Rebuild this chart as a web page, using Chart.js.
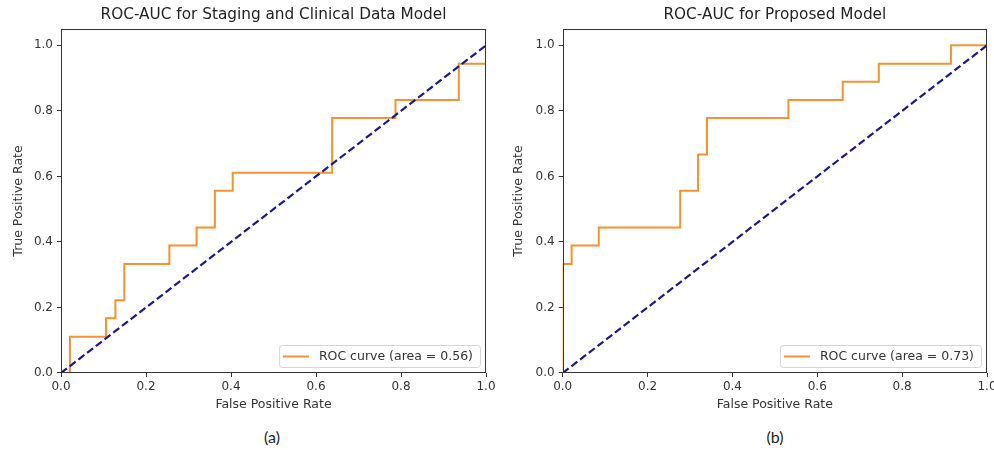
<!DOCTYPE html>
<html><head><meta charset="utf-8">
<script src="https://cdn.jsdelivr.net/npm/chart.js@4.4.1/dist/chart.umd.min.js"></script>
<style>
html,body{margin:0;padding:0;background:#fff;width:994px;height:450px;overflow:hidden;position:relative}
canvas{position:absolute;top:0}
#c1{left:0}
#c2{left:500px}
.cap{position:absolute;top:428px;line-height:18px;font-family:Lato,'Open Sans',sans-serif;font-size:16px;color:#222;transform:translateX(-50%)}
</style></head><body>
<canvas id="c1" width="547" height="420"></canvas>
<canvas id="c2" width="550" height="420"></canvas>
<div class="cap" style="left:272px">(a)</div>
<div class="cap" style="left:775px">(b)</div>
<script>
// ---- data ----
const titleA = "ROC-AUC for Staging and Clinical Data Model";
const titleB = "ROC-AUC for Proposed Model";
const legendA = "ROC curve (area = 0.56)";
const legendB = "ROC curve (area = 0.73)";
const xAxisLabel = "False Positive Rate";
const yAxisLabel = "True Positive Rate";

const leftFpr = [0, 0.021, 0.021, 0.106, 0.106, 0.128, 0.128, 0.149, 0.149, 0.255, 0.255, 0.319, 0.319, 0.362, 0.362, 0.404, 0.404, 0.638, 0.638, 0.787, 0.787, 0.936, 0.936, 1.0, 1.0];
const leftTpr = [0, 0, 0.111, 0.111, 0.167, 0.167, 0.222, 0.222, 0.333, 0.333, 0.389, 0.389, 0.444, 0.444, 0.556, 0.556, 0.611, 0.611, 0.778, 0.778, 0.833, 0.833, 0.944, 0.944, 1.0];

const rightFpr = [0, 0, 0.021, 0.021, 0.085, 0.085, 0.277, 0.277, 0.319, 0.319, 0.340, 0.340, 0.532, 0.532, 0.660, 0.660, 0.745, 0.745, 0.915, 0.915, 1.0];
const rightTpr = [0, 0.333, 0.333, 0.389, 0.389, 0.444, 0.444, 0.556, 0.556, 0.667, 0.667, 0.778, 0.778, 0.833, 0.833, 0.889, 0.889, 0.944, 0.944, 1.0, 1.0];

const chanceX = [0, 1];
const chanceY = [0, 1];

const xRange = [0, 1.0];
const yRange = [0, 1.05];
const tickStep = 0.2;

// ---- styling ----
const ORANGE = '#f39232';
const NAVY = '#1a1a88';
const TEXT = '#333333';
const FONT = '"DejaVu Sans", sans-serif';

const framePlugin = {
  id: 'frame',
  afterDraw(chart, args, opts) {
    const {ctx, chartArea: a} = chart;
    ctx.save();
    ctx.strokeStyle = '#333';
    ctx.lineWidth = 1;
    const l = Math.round(a.left) + 0.5, t = Math.round(a.top) + 0.5;
    const r = Math.round(a.right) - 0.5, b = Math.round(a.bottom) - 0.5;
    ctx.strokeRect(l, t, r - l, b - t);
    // inner legend (bottom right)
    ctx.font = '12.5px ' + FONT;
    const text = opts.text;
    const tw = ctx.measureText(text).width;
    const h = 22, w = 4 + 26 + 10 + tw + 7;
    const x = a.right - 6 - w, y = a.bottom - 6 - h;
    ctx.beginPath();
    if (ctx.roundRect) ctx.roundRect(x + 0.5, y + 0.5, w, h, 3); else ctx.rect(x + 0.5, y + 0.5, w, h);
    ctx.fillStyle = 'rgba(255,255,255,0.85)';
    ctx.fill();
    ctx.strokeStyle = '#d4d4d4';
    ctx.stroke();
    ctx.beginPath();
    ctx.strokeStyle = ORANGE;
    ctx.lineWidth = 2;
    ctx.moveTo(x + 4, y + h / 2 + 0.5);
    ctx.lineTo(x + 30, y + h / 2 + 0.5);
    ctx.stroke();
    ctx.fillStyle = TEXT;
    ctx.textBaseline = 'middle';
    ctx.textAlign = 'left';
    ctx.fillText(text, x + 40, y + h / 2 + 1);
    ctx.restore();
  }
};

function toPoints(xs, ys) { return xs.map((v, i) => ({x: v, y: ys[i]})); }

function makeChart(id, title, fpr, tpr, legendText, yWidth, padRight) {
  return new Chart(document.getElementById(id), {
    type: 'scatter',
    data: {
      datasets: [
        { data: toPoints(chanceX, chanceY), showLine: true, borderColor: NAVY, borderWidth: 2.2,
          borderDash: [7.5, 3.5], pointRadius: 0, order: 0, clip: 0 },
        { data: toPoints(fpr, tpr), showLine: true, borderColor: ORANGE, borderWidth: 2,
          pointRadius: 0, order: 1, clip: 0, tension: 0 }
      ]
    },
    options: {
      responsive: false, animation: false, devicePixelRatio: 1,
      layout: { padding: { left: 0, right: padRight, top: 0, bottom: 0 } },
      plugins: {
        legend: { display: false }, tooltip: { enabled: false },
        title: { display: true, fullSize: false, text: title, color: '#222', font: { family: FONT, size: 15.3, weight: 'normal', lineHeight: 1.2 },
                 padding: { top: 6, bottom: 4.6 } },
        frame: { text: legendText }
      },
      scales: {
        x: {
          type: 'linear', min: xRange[0], max: xRange[1],
          afterFit(s) { s.height = 47; },
          border: { display: false },
          grid: { drawOnChartArea: false, drawTicks: true, tickLength: 4, tickColor: '#333' },
          ticks: { stepSize: tickStep, includeBounds: false, padding: 3, color: TEXT, maxRotation: 0,
                   font: { family: FONT, size: 12 }, callback: v => Number(v).toFixed(1) },
          title: { display: true, text: xAxisLabel, color: TEXT, font: { family: FONT, size: 12.5 }, padding: { top: 0, bottom: 8 } }
        },
        y: {
          type: 'linear', min: yRange[0], max: yRange[1],
          afterFit(s) { s.width = yWidth; },
          border: { display: false },
          grid: { drawOnChartArea: false, drawTicks: true, tickLength: 4, tickColor: '#333' },
          ticks: { stepSize: tickStep, includeBounds: false, padding: 4, color: TEXT,
                   font: { family: FONT, size: 12 }, callback: v => Number(v).toFixed(1) },
          title: { display: true, text: yAxisLabel, color: TEXT, font: { family: FONT, size: 12.5 }, padding: { top: 11, bottom: 11 } }
        }
      }
    },
    plugins: [framePlugin]
  });
}

makeChart('c1', titleA, leftFpr, leftTpr, legendA, 61, 61);
makeChart('c2', titleB, rightFpr, rightTpr, legendB, 62.7, 63);
</script>
</body></html>
